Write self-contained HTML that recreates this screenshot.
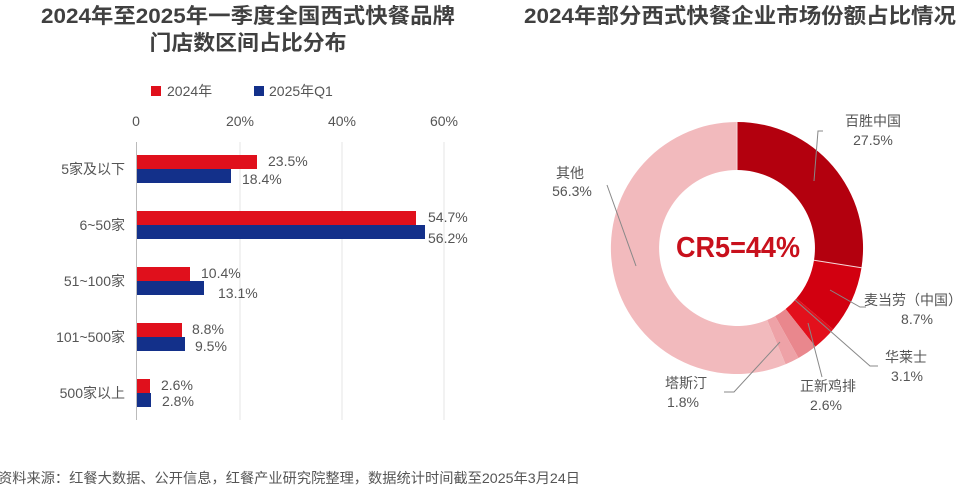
<!DOCTYPE html>
<html><head><meta charset="utf-8"><style>
body{margin:0;background:#fff;}
svg{display:block;font-family:"Liberation Sans","Noto Sans CJK SC",sans-serif;}
</style></head><body>
<svg width="976" height="492" viewBox="0 0 976 492" xmlns="http://www.w3.org/2000/svg">
<rect width="976" height="492" fill="#fff"/>
<g font-weight="bold" fill="#404040" font-size="21" text-anchor="middle">
<text x="248" y="23" textLength="414" lengthAdjust="spacingAndGlyphs">2024年至2025年一季度全国西式快餐品牌</text>
<text x="248" y="50" textLength="197" lengthAdjust="spacingAndGlyphs">门店数区间占比分布</text>
<text x="740" y="23" textLength="432" lengthAdjust="spacingAndGlyphs">2024年部分西式快餐企业市场份额占比情况</text>
</g>
<!-- legend -->
<rect x="151" y="86" width="10" height="10" fill="#e0101c"/>
<text x="167" y="96" font-size="14" fill="#555">2024年</text>
<rect x="254" y="86" width="10" height="10" fill="#13308a"/>
<text x="269" y="96" font-size="14" fill="#555">2025年Q1</text>
<g font-size="14" fill="#555" text-anchor="middle">
<text x="136" y="126">0</text><text x="240" y="126">20%</text><text x="342" y="126">40%</text><text x="444" y="126">60%</text>
</g>
<g stroke="#e4e4e4" stroke-width="1">
<line x1="240" y1="142" x2="240" y2="420"/><line x1="342" y1="142" x2="342" y2="420"/><line x1="444" y1="142" x2="444" y2="420"/>
</g>
<line x1="136.5" y1="142" x2="136.5" y2="420" stroke="#bbb"/>
<g font-size="14" fill="#555" text-anchor="end">
<text x="125" y="174">5家及以下</text>
<text x="125" y="230">6~50家</text>
<text x="125" y="286">51~100家</text>
<text x="125" y="342">101~500家</text>
<text x="125" y="398">500家以上</text>
</g>
<g fill="#e0101c">
<rect x="137" y="155" width="120" height="14"/>
<rect x="137" y="211" width="279" height="14"/>
<rect x="137" y="267" width="53" height="14"/>
<rect x="137" y="323" width="45" height="14"/>
<rect x="137" y="379" width="13" height="14"/>
</g>
<g fill="#13308a">
<rect x="137" y="169" width="94" height="14"/>
<rect x="137" y="225" width="288" height="14"/>
<rect x="137" y="281" width="67" height="14"/>
<rect x="137" y="337" width="48" height="14"/>
<rect x="137" y="393" width="14" height="14"/>
</g>
<g font-size="14" fill="#555">
<text x="268" y="166">23.5%</text><text x="242" y="184">18.4%</text>
<text x="428" y="222">54.7%</text><text x="428" y="243">56.2%</text>
<text x="201" y="278">10.4%</text><text x="218" y="298">13.1%</text>
<text x="192" y="334">8.8%</text><text x="195" y="351">9.5%</text>
<text x="161" y="390">2.6%</text><text x="162" y="406">2.8%</text>
</g>
<!-- donut -->
<path d="M737,122 A126,126 0 0 1 861.5,267.7 L814,260.2 A78,78 0 0 0 737,170 Z" fill="#b3000e"/>
<path d="M861.5,267.7 A126,126 0 0 1 833.1,329.5 L796.5,298.4 A78,78 0 0 0 814,260.2 Z" fill="#d20010"/>
<path d="M833.1,329.5 A126,126 0 0 1 815.4,346.6 L785.6,309 A78,78 0 0 0 796.5,298.4 Z" fill="#e3101c"/>
<path d="M815.4,346.6 A126,126 0 0 1 798.5,358 L775.1,316.1 A78,78 0 0 0 785.6,309 Z" fill="#e9878d"/>
<path d="M798.5,358 A126,126 0 0 1 785.6,364.2 L767.1,320 A78,78 0 0 0 775.1,316.1 Z" fill="#eea2a7"/>
<path d="M785.6,364.2 A126,126 0 1 1 737,122 L737,170 A78,78 0 1 0 767.1,320 Z" fill="#f2babd"/>
<g stroke="#f6d8da" stroke-width="1"><line x1="737" y1="122" x2="737" y2="170"/><line x1="861.5" y1="267.7" x2="814" y2="260.2"/></g>
<text x="738" y="257" text-anchor="middle" font-size="29" font-weight="bold" fill="#c8101c" textLength="124" lengthAdjust="spacingAndGlyphs">CR5=44%</text>
<g stroke="#888" stroke-width="1" fill="none">
<polyline points="814,181 818,131 823,131"/>
<polyline points="607,185 636,266"/>
<polyline points="830,290 860,307 866,307"/>
<polyline points="795,300 870,366 878,366"/>
<polyline points="808,323 822,377"/>
<polyline points="780,342 734,392 724,392"/>
</g>
<g font-size="14" fill="#555" text-anchor="middle">
<text x="873" y="126">百胜中国</text><text x="873" y="145">27.5%</text>
<text x="570" y="178">其他</text><text x="572" y="196">56.3%</text>
<text x="913" y="305">麦当劳（中国）</text><text x="917" y="324">8.7%</text>
<text x="906" y="362">华莱士</text><text x="907" y="381">3.1%</text>
<text x="828" y="391">正新鸡排</text><text x="826" y="410">2.6%</text>
<text x="686" y="388">塔斯汀</text><text x="683" y="407">1.8%</text>
</g>
<text x="-2" y="483" font-size="14" fill="#555" textLength="582" lengthAdjust="spacingAndGlyphs">资料来源：红餐大数据、公开信息，红餐产业研究院整理，数据统计时间截至2025年3月24日</text>
</svg>
</body></html>
